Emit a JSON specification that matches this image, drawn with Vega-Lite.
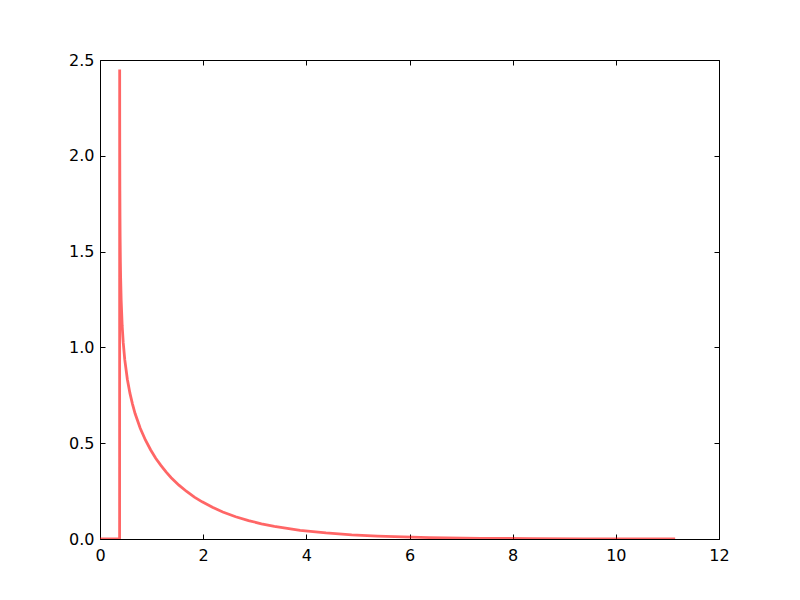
{
  "$schema": "https://vega.github.io/schema/vega-lite/v6.json",
  "autosize": {"type": "none"},
  "width": 619,
  "height": 479,
  "padding": {"left": 100, "top": 60, "right": 81, "bottom": 61},
  "background": "white",
  "config": {
    "view": {"stroke": "black", "strokeWidth": 1},
    "axis": {"grid": false, "domain": false, "tickColor": "black", "tickSize": -5, "tickWidth": 1, "labelFont": "DejaVu Sans", "labelFontSize": 16, "labelColor": "black", "labelFlush": false, "labelPadding": 13, "title": null}
  },
  "data": {"values": [
    {"x": 0, "y": 0},
    {"x": 0.38, "y": 0},
    {"x": 0.3813, "y": 2.45},
    {"x": 0.382, "y": 2.19},
    {"x": 0.383, "y": 2.02},
    {"x": 0.385, "y": 1.82},
    {"x": 0.3875, "y": 1.68},
    {"x": 0.39, "y": 1.577},
    {"x": 0.395, "y": 1.449},
    {"x": 0.40, "y": 1.363},
    {"x": 0.41, "y": 1.249},
    {"x": 0.43, "y": 1.112},
    {"x": 0.45, "y": 1.026},
    {"x": 0.48, "y": 0.936},
    {"x": 0.53, "y": 0.834},
    {"x": 0.58, "y": 0.761},
    {"x": 0.63, "y": 0.704},
    {"x": 0.68, "y": 0.655},
    {"x": 0.78, "y": 0.578},
    {"x": 0.88, "y": 0.517},
    {"x": 0.98, "y": 0.466},
    {"x": 1.08, "y": 0.4215},
    {"x": 1.18, "y": 0.384},
    {"x": 1.28, "y": 0.35},
    {"x": 1.38, "y": 0.32},
    {"x": 1.53, "y": 0.281},
    {"x": 1.68, "y": 0.248},
    {"x": 1.83, "y": 0.2188},
    {"x": 1.98, "y": 0.194},
    {"x": 2.18, "y": 0.1652},
    {"x": 2.38, "y": 0.141},
    {"x": 2.63, "y": 0.1163},
    {"x": 2.88, "y": 0.096},
    {"x": 3.13, "y": 0.0795},
    {"x": 3.38, "y": 0.066},
    {"x": 3.88, "y": 0.0455},
    {"x": 4.38, "y": 0.0315},
    {"x": 4.88, "y": 0.0219},
    {"x": 5.38, "y": 0.0153},
    {"x": 5.88, "y": 0.0107},
    {"x": 6.38, "y": 0.0075},
    {"x": 7.38, "y": 0.0037},
    {"x": 8.38, "y": 0.0018},
    {"x": 9.38, "y": 0.0009},
    {"x": 10.38, "y": 0.0004},
    {"x": 11.15, "y": 0.0002}
  ]},
  "layer": [
    {
      "mark": {"type": "line", "color": "#ff0000", "opacity": 0.6, "strokeWidth": 2.8, "clip": true},
      "encoding": {
        "x": {"field": "x", "type": "quantitative", "scale": {"domain": [0, 12], "nice": false, "zero": false}, "axis": {"values": [0, 2, 4, 6, 8, 10, 12], "format": "d", "orient": "bottom"}},
        "y": {"field": "y", "type": "quantitative", "scale": {"domain": [0, 2.5], "nice": false}, "axis": {"values": [0, 0.5, 1, 1.5, 2, 2.5], "format": ".1f", "orient": "left", "labelPadding": 11}}
      }
    },
    {
      "mark": {"type": "line", "strokeOpacity": 0},
      "encoding": {
        "x": {"field": "x", "type": "quantitative", "axis": {"values": [0, 2, 4, 6, 8, 10, 12], "labels": false, "orient": "top"}},
        "y": {"field": "y", "type": "quantitative", "axis": {"values": [0, 0.5, 1, 1.5, 2, 2.5], "labels": false, "orient": "right"}}
      }
    }
  ],
  "resolve": {"axis": {"x": "independent", "y": "independent"}}
}
